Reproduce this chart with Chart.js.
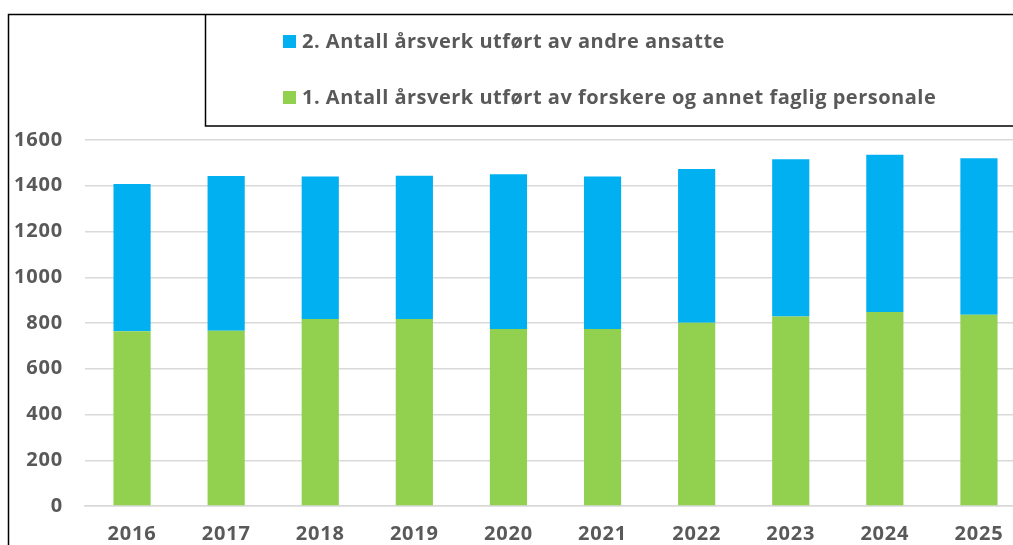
<!DOCTYPE html>
<html>
<head>
<meta charset="utf-8">
<script src="https://cdn.jsdelivr.net/npm/chart.js@4/dist/chart.umd.min.js"></script>
<style>
  html, body { margin: 0; padding: 0; background: #ffffff; overflow: hidden; }
  #wrap { position: relative; width: 1026px; height: 545px; }
</style>
</head>
<body>
<div id="wrap"><canvas id="c"></canvas></div>
<script>
const years = ["2016","2017","2018","2019","2020","2021","2022","2023","2024","2025"];
const researchStaff = [764, 766, 817, 817, 774, 774, 801, 828, 848, 836];
const otherStaff = [644, 677, 623, 627, 676, 666, 672, 688, 688, 684];
const seriesLabels = [
  "1. Antall årsverk utført av forskere og annet faglig personale",
  "2. Antall årsverk utført av andre ansatte"
];
const seriesColors = ["#92D050", "#00B0F0"];

const FONT = "'Open Sans', 'DejaVu Sans', sans-serif";
const TEXT = "#595959";

const framePlugin = {
  id: "frame",
  beforeDraw(chart) {
    chart.ctx.letterSpacing = "0.8px";
  },
  afterDraw(chart) {
    const ctx = chart.ctx;
    const W = chart.width, H = chart.height;
    ctx.save();
    ctx.strokeStyle = "#000000";
    ctx.lineWidth = 1.5;
    ctx.beginPath();
    ctx.moveTo(8.5, H + 2);
    ctx.lineTo(8.5, 14.5);
    ctx.lineTo(W + 2, 14.5);
    ctx.stroke();
    ctx.beginPath();
    ctx.moveTo(205.5, 14.5);
    ctx.lineTo(205.5, 126);
    ctx.lineTo(W + 2, 126);
    ctx.stroke();
    const ds = chart.data.datasets;
    const rows = [41, 97];
    ctx.font = "bold 20px " + FONT;
    ctx.letterSpacing = "0.5px";
    ctx.textBaseline = "middle";
    ctx.textAlign = "left";
    for (let i = 0; i < ds.length; i++) {
      const d = ds[ds.length - 1 - i];
      const y = rows[i];
      ctx.fillStyle = d.backgroundColor;
      ctx.fillRect(283, y - 6, 13, 13);
      ctx.fillStyle = TEXT;
      ctx.fillText(d.label, 302, y + 1);
    }
    ctx.restore();
  }
};

new Chart(document.getElementById("c"), {
  type: "bar",
  data: {
    labels: years,
    datasets: [
      { label: seriesLabels[0], data: researchStaff, backgroundColor: seriesColors[0], borderWidth: 0 },
      { label: seriesLabels[1], data: otherStaff, backgroundColor: seriesColors[1], borderWidth: 0 }
    ]
  },
  options: {
    responsive: true,
    maintainAspectRatio: false,
    animation: false,
    devicePixelRatio: 1,
    layout: { padding: { top: 140, left: 15, right: 0, bottom: 0 } },
    datasets: { bar: { barPercentage: 0.395, categoryPercentage: 1.0 } },
    plugins: { legend: { display: false }, tooltip: { enabled: false } },
    scales: {
      x: {
        stacked: true,
        afterFit(scale) { scale.height = 39; },
        grid: { display: false, drawTicks: false },
        border: { display: true, color: "#D9D9D9", width: 1.5 },
        ticks: { color: TEXT, font: { family: FONT, size: 20, weight: "bold" }, padding: 16, maxRotation: 0 }
      },
      y: {
        stacked: true,
        min: 0,
        max: 1600,
        afterFit(scale) { scale.width = 70; },
        grid: { color: "#D9D9D9", lineWidth: 1.5, drawTicks: false },
        border: { display: false },
        ticks: {
          stepSize: 200, color: TEXT, padding: 22,
          font: { family: FONT, size: 20, weight: "bold" },
          callback: (v) => String(v)
        }
      }
    }
  },
  plugins: [framePlugin]
});
</script>
</body>
</html>
